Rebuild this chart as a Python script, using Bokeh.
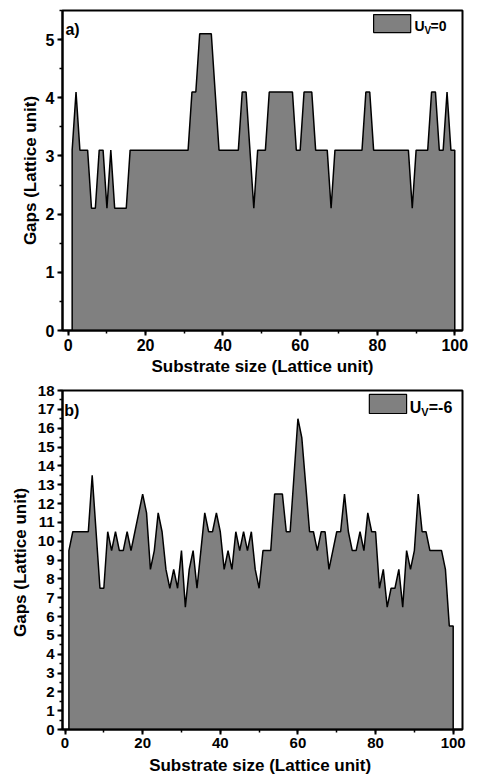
from bokeh.plotting import figure
from bokeh.models import Range1d, SingleIntervalTicker, Label, BoxAnnotation
from bokeh.layouts import column
from bokeh.embed import file_html
from bokeh.resources import INLINE

# ---------------- data ----------------
substrate_size = list(range(1, 101))

gap_uv0 = [
    3.1, 4.1, 3.1, 3.1, 3.1, 2.1, 2.1, 3.1, 3.1, 2.1,
    3.1, 2.1, 2.1, 2.1, 2.1, 3.1, 3.1, 3.1, 3.1, 3.1,
    3.1, 3.1, 3.1, 3.1, 3.1, 3.1, 3.1, 3.1, 3.1, 3.1,
    3.1, 4.1, 4.1, 5.1, 5.1, 5.1, 5.1, 4.1, 3.1, 3.1,
    3.1, 3.1, 3.1, 3.1, 4.1, 4.1, 3.1, 2.1, 3.1, 3.1,
    3.1, 4.1, 4.1, 4.1, 4.1, 4.1, 4.1, 4.1, 3.1, 3.1,
    4.1, 4.1, 4.1, 3.1, 3.1, 3.1, 3.1, 2.1, 3.1, 3.1,
    3.1, 3.1, 3.1, 3.1, 3.1, 3.1, 4.1, 4.1, 3.1, 3.1,
    3.1, 3.1, 3.1, 3.1, 3.1, 3.1, 3.1, 3.1, 2.1, 3.1,
    3.1, 3.1, 3.1, 4.1, 4.1, 3.1, 3.1, 4.1, 3.1, 3.1,
]

gap_uv6 = [
    9.5, 10.5, 10.5, 10.5, 10.5, 10.5, 13.5, 10.5, 7.5, 7.5,
    10.5, 9.5, 10.5, 9.5, 9.5, 10.5, 9.5, 10.5, 11.5, 12.5,
    11.5, 8.5, 9.5, 11.5, 10.5, 8.5, 7.5, 8.5, 7.5, 9.5,
    6.5, 8.5, 9.5, 7.5, 9.5, 11.5, 10.5, 10.5, 11.5, 10.5,
    8.5, 9.5, 8.5, 10.5, 9.5, 10.5, 9.5, 10.5, 8.5, 7.5,
    9.5, 9.5, 9.5, 12.5, 12.5, 12.5, 10.5, 10.5, 13.5, 16.5,
    15.5, 13.0, 10.5, 10.5, 9.5, 10.5, 10.5, 8.5, 9.5, 10.5,
    10.5, 12.5, 10.5, 9.5, 9.5, 10.5, 9.5, 11.5, 10.5, 10.5,
    7.5, 8.5, 6.5, 7.5, 7.5, 8.5, 6.5, 9.5, 8.5, 9.5,
    12.5, 10.5, 10.5, 9.5, 9.5, 9.5, 9.5, 8.5, 5.5, 5.5,
]

x_title_a = "Substrate size (Lattice unit)"
y_title_a = "Gaps (Lattice unit)"
x_title_b = "Substrate size (Lattice  unit)"
y_title_b = "Gaps (Lattice  unit)"

FONT = "Liberation Sans"
FILL = "#808080"


def style(p, tick_size, ystep, label_standoff):
    p.xgrid.visible = False
    p.ygrid.visible = False
    p.outline_line_color = "black"
    p.outline_line_width = 2
    p.outline_line_alpha = 1
    p.xaxis.ticker = SingleIntervalTicker(interval=20, num_minor_ticks=2)
    p.yaxis.ticker = SingleIntervalTicker(interval=ystep, num_minor_ticks=2)
    for ax in (p.xaxis[0], p.yaxis[0]):
        ax.axis_line_width = 2
        ax.axis_line_color = "black"
        ax.major_tick_line_width = 2
        ax.major_tick_line_color = "black"
        ax.minor_tick_line_width = 1.5
        ax.minor_tick_line_color = "black"
        ax.major_tick_in = 0
        ax.major_tick_out = 5
        ax.minor_tick_in = 0
        ax.minor_tick_out = 3
        ax.major_label_text_font = FONT
        ax.major_label_text_font_style = "bold"
        ax.major_label_text_font_size = tick_size
        ax.major_label_text_color = "black"
        ax.major_label_standoff = 3
        ax.axis_label_text_font = FONT
        ax.axis_label_text_font_style = "bold"
        ax.axis_label_text_font_size = "17px"
        ax.axis_label_text_color = "black"
        ax.axis_label_standoff = label_standoff


def legend(p, left, right, bottom, top, tx, ty, sub_ty, rest, size, sub_size, dx1, dx2):
    p.add_layout(BoxAnnotation(left=left, right=right, bottom=bottom, top=top,
                               fill_color=FILL, fill_alpha=1,
                               line_color="black", line_width=1.2, line_alpha=1))
    common = dict(text_font=FONT, text_font_style="bold", text_color="black",
                  text_baseline="alphabetic", text_align="left")
    p.add_layout(Label(x=tx, y=ty, text="U", text_font_size=size, **common))
    p.add_layout(Label(x=tx, y=sub_ty, x_offset=dx1, text="V", text_font_size=sub_size, **common))
    p.add_layout(Label(x=tx, y=ty, x_offset=dx2, text=rest, text_font_size=size, **common))


# ---------------- panel a ----------------
pa = figure(width=484, height=378, output_backend="svg", toolbar_location=None,
            x_range=Range1d(-1.5, 102), y_range=Range1d(0, 5.5),
            min_border_left=62, min_border_right=22, min_border_top=10, min_border_bottom=48,
            x_axis_label=x_title_a, y_axis_label=y_title_a)
style(pa, "16px", 1, 3)
pa.patch(x=[substrate_size[0]] + substrate_size + [substrate_size[-1]],
         y=[0] + gap_uv0 + [0],
         fill_color=FILL, fill_alpha=1, line_color="black", line_width=1.5)
pa.add_layout(Label(x=-0.75, y=5.17, text="a)", text_font=FONT, text_font_style="bold",
                    text_font_size="16px", text_color="black", text_baseline="alphabetic"))
legend(pa, 79.0, 88.6, 5.12, 5.43, 89.6, 5.24, 5.16, "=0", "14px", "10px", 10, 16)

# ---------------- panel b ----------------
pb = figure(width=484, height=403, output_backend="svg", toolbar_location=None,
            x_range=Range1d(-0.65, 102.4), y_range=Range1d(0, 18),
            min_border_left=60, min_border_right=4, min_border_top=12, min_border_bottom=52,
            x_axis_label=x_title_b, y_axis_label=y_title_b)
style(pb, "15px", 1, 5)
pb.patch(x=[substrate_size[0]] + substrate_size + [substrate_size[-1]],
         y=[0] + gap_uv6 + [0],
         fill_color=FILL, fill_alpha=1, line_color="black", line_width=1.5)
pb.add_layout(Label(x=-0.2, y=16.94, text="b)", text_font=FONT, text_font_style="bold",
                    text_font_size="16px", text_color="black", text_baseline="alphabetic"))
legend(pb, 78.4, 88.0, 16.78, 17.79, 88.8, 17.1, 16.88, "=-6", "16px", "11px", 11.5, 19)

layout = column(pa, pb)
open("out.html", "w").write(file_html(layout, INLINE))
